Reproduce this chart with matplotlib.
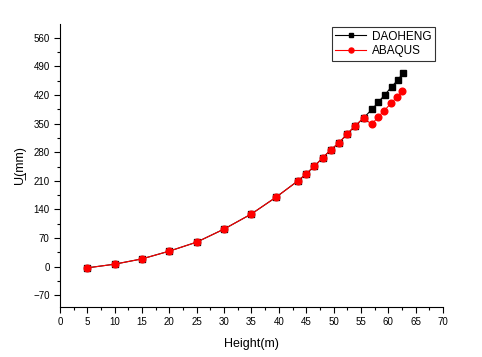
import matplotlib
matplotlib.use('Agg')
from matplotlib import pyplot as plt
from matplotlib.ticker import MultipleLocator

plt.rcParams['font.family'] = ['Liberation Sans', 'DejaVu Sans']

# data
dao_x = [5, 10, 15, 20, 25, 30, 35, 39.5, 43.5, 45, 46.5, 48, 49.5, 51, 52.5, 54, 55.5,
         57.1, 58.2, 59.4, 60.6, 61.7, 62.7]
dao_y = [-3, 6, 19, 38, 60, 92, 129, 170, 210, 227, 246, 266, 286, 303, 325, 345, 364,
         386, 403, 421, 440, 456, 474]
aba_x = [5, 10, 15, 20, 25, 30, 35, 39.5, 43.5, 45, 46.5, 48, 49.5, 51, 52.5, 54, 55.5,
         57, 58.1, 59.3, 60.5, 61.6, 62.6]
aba_y = [-3, 6, 19, 38, 60, 92, 129, 170, 210, 227, 246, 266, 286, 303, 325, 345, 364,
         348, 366, 382, 400, 415, 429]

fig = plt.figure(figsize=(4.82, 3.57), dpi=100)
ax = fig.add_axes([0.1245, 0.141, 0.7945, 0.792])

ax.plot(dao_x, dao_y, color='black', lw=0.8, marker='s', ms=4.5, label='DAOHENG')
ax.plot(aba_x, aba_y, color='red', lw=0.8, marker='o', ms=4.8, label='ABAQUS')

ax.set_xlim(0, 70)
ax.set_ylim(-98, 594)
ax.xaxis.set_major_locator(MultipleLocator(5))
ax.xaxis.set_minor_locator(MultipleLocator(2.5))
ax.yaxis.set_major_locator(MultipleLocator(70))
ax.yaxis.set_minor_locator(MultipleLocator(35))
ax.tick_params(which='major', direction='out', length=4, width=0.8, labelsize=7)
ax.tick_params(which='minor', direction='out', length=2.5, width=0.8)
ax.spines['top'].set_visible(False)
ax.spines['right'].set_visible(False)

ax.set_xlabel('Height(m)', fontsize=9, labelpad=8)
ax.set_ylabel('U\u0332(mm)', fontsize=9, labelpad=5)

leg = ax.legend(loc='upper right', bbox_to_anchor=(0.995, 1.01), fontsize=8.5,
                frameon=True, fancybox=False, edgecolor='black', markerscale=0.75,
                handlelength=2.6, borderpad=0.3, labelspacing=0.25, handletextpad=0.5)
leg.get_frame().set_linewidth(0.8)

fig.savefig('out.png', dpi=100)
